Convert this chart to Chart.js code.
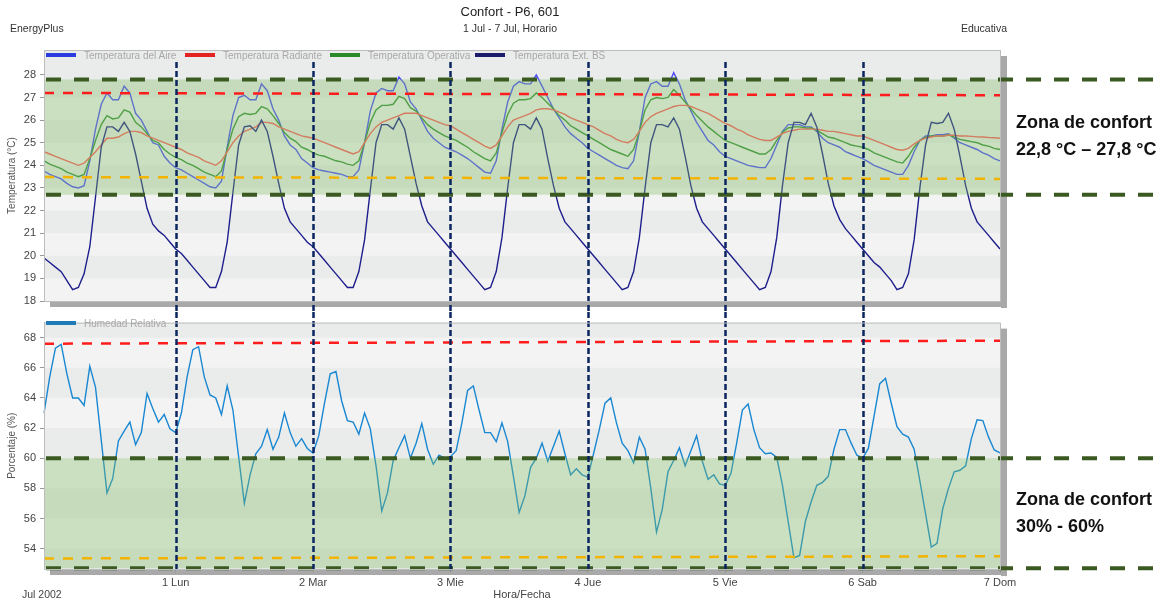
<!DOCTYPE html>
<html>
<head>
<meta charset="utf-8">
<script src="https://cdn.jsdelivr.net/npm/chart.js@4"></script>
<style>
  body { margin: 0; width: 1168px; height: 602px; background: #fff; position: relative; overflow: hidden;
         font-family: "Liberation Sans", Arial, sans-serif; }
  canvas { position: absolute; left: 0; }
  #tempChart { top: 0; }
  #humChart { top: 312px; }
  .t { position: absolute; white-space: nowrap; color: #333; font-size: 10.5px; line-height: 14px; }
  .zone { position: absolute; left: 1016px; font-weight: bold; font-size: 18px; line-height: 27px; color: #111; white-space: nowrap; }
  .leg { position: absolute; font-size: 10px; line-height: 12px; color: #a8a8a8; white-space: nowrap; }
  .leg i { display: inline-block; width: 30px; height: 4px; vertical-align: middle; margin: -2px 8px 0 0; }
</style>
</head>
<body>
<canvas id="tempChart" width="1168" height="312"></canvas>
<canvas id="humChart" width="1168" height="290"></canvas>

<div class="t" style="left:410px;width:200px;text-align:center;top:4px;font-size:13px;line-height:16px;color:#222">Confort - P6, 601</div>
<div class="t" style="left:410px;width:200px;text-align:center;top:21px">1 Jul - 7 Jul, Horario</div>
<div class="t" style="left:10px;top:21px">EnergyPlus</div>
<div class="t" style="left:907px;width:100px;text-align:right;top:21px">Educativa</div>
<div class="t" style="left:22px;top:587px;color:#444">Jul 2002</div>

<div class="leg" style="left:46px;top:50px"><i style="background:#2a3ce0"></i>Temperatura del Aire</div>
<div class="leg" style="left:185px;top:50px"><i style="background:#e42222"></i>Temperatura Radiante</div>
<div class="leg" style="left:330px;top:50px"><i style="background:#2a8a2a"></i>Temperatura Operativa</div>
<div class="leg" style="left:475px;top:50px"><i style="background:#1c1c6c"></i>Temperatura Ext. BS</div>
<div class="leg" style="left:46px;top:318px"><i style="background:#1f7ab8"></i>Humedad Relativa</div>

<div class="zone" style="top:109px">Zona de confort<br>22,8 °C – 27,8 °C</div>
<div class="zone" style="top:486px">Zona de confort<br>30% - 60%</div>

<script>
Chart.defaults.font.family = '"Liberation Sans", Arial, sans-serif';

const dayLabels = ['1 Lun', '2 Mar', '3 Mie', '4 Jue', '5 Vie', '6 Sab', '7 Dom'];
const hours = Array.from({ length: 168 }, (_, i) => i + 1);

const tempTicks = [18, 19, 20, 21, 22, 23, 24, 25, 26, 27, 28];
const humTicks = [54, 56, 58, 60, 62, 64, 66, 68];

// reference lines
const tempComfort = [22.7, 27.8];
const tempRed = [27.2, 27.1];
const tempYellow = [23.48, 23.4];
const humComfort = [52.7, 60];
const humRed = [67.6, 67.8];
const humYellow = [53.35, 53.5];

// hourly values, one row per day
const tempAire = [
  23.75, 23.6, 23.5, 23.4, 23.2, 23.05, 23.0, 23.1, 24.2, 25.6, 26.7, 27.2, 26.9, 26.9, 27.5, 27.2, 26.3, 26.0, 25.5, 25.0, 24.9, 24.4, 24.1, 23.9,
  23.8, 23.65, 23.5, 23.35, 23.2, 23.05, 23.0, 23.3, 24.8, 26.2, 27.0, 27.1, 26.9, 26.9, 27.6, 27.3, 26.5, 26.0, 25.3, 24.9, 24.7, 24.3, 24.1, 23.9,
  23.8, 23.75, 23.7, 23.65, 23.6, 23.5, 23.5, 23.8, 25.0, 26.4, 27.2, 27.4, 27.3, 27.3, 27.9, 27.6, 26.8, 26.5, 26.0, 25.5, 25.2, 25.0, 24.8, 24.7,
  24.6, 24.45, 24.3, 24.1, 23.9, 23.7, 23.65, 24.2, 25.6, 26.8, 27.5, 27.7, 27.6, 27.6, 28.0, 27.5, 27.0, 26.5, 26.1, 25.7, 25.4, 25.2, 25.0, 24.75,
  24.6, 24.45, 24.3, 24.15, 24.0, 23.9, 23.85, 24.2, 25.5, 27.0, 27.6, 27.7, 27.5, 27.5, 28.1, 27.6, 26.9, 26.4, 25.9, 25.5, 25.1, 24.9, 24.6, 24.4,
  24.3, 24.2, 24.1, 24.0, 23.95, 23.9, 23.9, 24.3, 24.9, 25.5, 25.8, 25.8, 25.8, 25.7, 25.7, 25.5, 25.2, 25.0, 24.9, 24.8, 24.6, 24.5, 24.4, 24.3,
  24.15, 24.0, 23.9, 23.8, 23.7, 23.6, 23.6, 24.0, 24.6, 25.1, 25.3, 25.3, 25.35, 25.35, 25.4, 25.2, 25.0, 24.9, 24.8, 24.7, 24.55, 24.45, 24.3, 24.2
];
const tempRadiante = [
  24.6, 24.5, 24.4, 24.3, 24.2, 24.1, 24.0, 24.1, 24.35, 24.6, 24.9, 25.2, 25.2, 25.25, 25.4, 25.5, 25.5, 25.45, 25.3, 25.2, 25.1, 25.0, 24.9, 24.8,
  24.7, 24.55, 24.45, 24.35, 24.2, 24.1, 24.0, 24.2, 24.6, 25.0, 25.3, 25.5, 25.6, 25.7, 25.9, 25.9, 25.85, 25.7, 25.6, 25.5, 25.4, 25.3, 25.25, 25.2,
  25.1, 25.0, 24.9, 24.8, 24.7, 24.6, 24.5, 24.6, 25.0, 25.4, 25.7, 25.9, 26.0, 26.1, 26.2, 26.3, 26.3, 26.3, 26.2, 26.1, 26.0, 25.9, 25.8, 25.75,
  25.6, 25.45, 25.3, 25.15, 25.0, 24.85, 24.75, 24.9, 25.3, 25.7, 26.0, 26.1, 26.2, 26.3, 26.45, 26.5, 26.5, 26.45, 26.35, 26.25, 26.1, 26.0, 25.9, 25.8,
  25.7, 25.55, 25.4, 25.3, 25.15, 25.05, 25.0, 25.15, 25.5, 25.9, 26.15, 26.3, 26.4, 26.5, 26.6, 26.65, 26.65, 26.6, 26.5, 26.4, 26.3, 26.15, 26.0, 25.85,
  25.75, 25.6, 25.5, 25.35, 25.25, 25.15, 25.1, 25.1, 25.25, 25.4, 25.5, 25.55, 25.6, 25.6, 25.6, 25.6, 25.55, 25.5, 25.5, 25.45, 25.4, 25.35, 25.3, 25.3,
  25.2, 25.1, 25.0, 24.9, 24.8, 24.7, 24.67, 24.75, 24.95, 25.1, 25.2, 25.25, 25.3, 25.3, 25.33, 25.33, 25.3, 25.3, 25.28, 25.26, 25.25, 25.23, 25.22, 25.2
];
const tempOperativa = [
  24.2, 24.05, 23.95, 23.85, 23.7, 23.6, 23.5, 23.6, 24.3, 25.1, 25.8, 26.2, 26.05, 26.1, 26.45, 26.35, 25.9, 25.7, 25.4, 25.1, 25.0, 24.7, 24.5, 24.35,
  24.25, 24.1, 24.0, 23.85, 23.7, 23.6, 23.5, 23.75, 24.7, 25.6, 26.15, 26.3, 26.25, 26.3, 26.6, 26.5, 26.2, 25.85, 25.45, 25.2, 25.05, 24.8, 24.7, 24.55,
  24.45, 24.4, 24.3, 24.2, 24.15, 24.05, 24.0, 24.2, 25.0, 25.9, 26.45, 26.65, 26.65, 26.7, 27.05, 26.95, 26.55, 26.4, 26.1, 25.8, 25.6, 25.45, 25.3, 25.2,
  25.1, 24.95, 24.8, 24.6, 24.45, 24.3, 24.2, 24.55, 25.45, 26.25, 26.75, 26.9, 26.9, 26.95, 27.2, 27.0, 26.75, 26.5, 26.2, 26.0, 25.75, 25.6, 25.45, 25.3,
  25.15, 25.0, 24.85, 24.7, 24.6, 24.5, 24.4, 24.7, 25.5, 26.45, 26.9, 27.0, 26.95, 27.0, 27.35, 27.1, 26.8, 26.5, 26.2, 25.95, 25.7, 25.5, 25.3, 25.1,
  25.0, 24.9, 24.8, 24.7, 24.6, 24.5, 24.5, 24.7, 25.1, 25.45, 25.65, 25.7, 25.7, 25.65, 25.65, 25.55, 25.4, 25.25, 25.2, 25.1, 25.0, 24.9, 24.85, 24.8,
  24.7, 24.55, 24.45, 24.35, 24.25, 24.15, 24.1, 24.4, 24.8, 25.1, 25.25, 25.3, 25.3, 25.3, 25.35, 25.25, 25.15, 25.1, 25.05, 25.0, 24.9, 24.85, 24.75, 24.7
];
const tempExterior = [
  19.9, 19.7, 19.5, 19.3, 18.9, 18.5, 18.6, 19.2, 20.4, 22.6, 24.8, 25.7, 25.7, 25.5, 25.9, 25.5, 24.5, 23.3, 22.1, 21.4, 21.1, 20.9, 20.6, 20.3,
  20.1, 19.8, 19.5, 19.2, 18.9, 18.6, 18.6, 19.3, 20.6, 22.8, 24.9, 25.7, 25.75, 25.5, 26.0, 25.5, 24.4, 23.2, 22.1, 21.5, 21.2, 20.9, 20.6, 20.4,
  20.1, 19.8, 19.5, 19.2, 18.9, 18.6, 18.6, 19.3, 20.7, 22.9, 25.0, 25.8, 25.8, 25.6, 26.1, 25.6, 24.4, 23.2, 22.2, 21.5, 21.2, 20.9, 20.6, 20.3,
  20.0, 19.7, 19.4, 19.1, 18.8, 18.5, 18.6, 19.3, 20.8, 23.0, 25.0, 25.8, 25.8, 25.6, 26.1, 25.6, 24.3, 23.1, 22.1, 21.5, 21.2, 20.9, 20.6, 20.3,
  20.0, 19.7, 19.4, 19.1, 18.8, 18.5, 18.6, 19.3, 20.8, 23.0, 25.0, 25.8, 25.8, 25.7, 26.1, 25.6, 24.4, 23.1, 22.1, 21.5, 21.2, 20.9, 20.6, 20.3,
  20.0, 19.7, 19.4, 19.1, 18.8, 18.5, 18.6, 19.3, 20.8, 23.1, 25.0, 25.9, 25.9, 25.8, 26.3, 25.7, 24.5, 23.2, 22.2, 21.6, 21.2, 20.9, 20.6, 20.3,
  20.0, 19.7, 19.5, 19.2, 18.9, 18.5, 18.6, 19.2, 20.7, 23.0, 24.9, 25.9, 25.85, 25.9, 26.3, 25.6, 24.4, 23.1, 22.1, 21.5, 21.2, 20.9, 20.6, 20.3
];
const humedad = [
  63.0, 65.4, 67.3, 67.55, 65.6, 64.0, 64.0, 63.5, 66.1, 64.7, 61.2, 57.7, 58.65, 61.15, 61.8, 62.4, 60.9, 61.7, 64.3, 63.3, 62.4, 62.9, 61.95, 61.7,
  63.0, 65.4, 67.2, 67.4, 65.4, 64.2, 64.0, 62.9, 64.8, 63.2, 60.1, 57.0, 58.9, 60.3, 60.8, 61.9, 60.6, 61.4, 63.0, 61.7, 60.8, 61.3, 60.65, 60.35,
  61.5, 63.65, 65.6, 65.75, 63.8, 62.5, 62.4, 61.6, 63.0, 61.95, 59.5, 56.5, 57.7, 59.85, 60.7, 61.5, 60.0, 61.0, 62.3, 60.6, 59.6, 60.2, 60.0, 60.1,
  60.5, 62.35, 64.5, 64.8, 63.2, 61.7, 61.7, 61.1, 62.35, 61.1, 58.8, 56.4, 57.5, 59.4, 60.0, 61.0, 59.8, 60.8, 61.8, 60.3, 58.9, 59.3, 58.9, 58.75,
  60.3, 61.9, 63.65, 64.0, 62.35, 61.0, 60.5, 59.7, 61.4, 60.6, 58.0, 55.1, 56.6, 59.1, 59.85, 60.7, 59.5, 60.5, 61.5, 59.8, 58.6, 58.9, 58.3, 58.2,
  59.0, 61.0, 63.2, 63.6, 61.9, 60.7, 60.3, 60.35, 60.05, 58.2, 55.8, 53.4, 53.55, 55.8, 57.1, 58.2, 58.4, 58.8, 60.6, 61.9, 61.9, 61.0, 60.2, 60.0,
  60.65, 62.8, 64.95, 65.3, 63.65, 62.1, 61.6, 61.4, 60.6, 58.5, 56.3, 54.1, 54.35, 56.65, 58.0, 59.1, 59.2, 59.5, 61.3, 62.55, 62.5, 61.4, 60.55, 60.35
];

function dashed(ctx, x0, y0, x1, y1, color, width, dash) {
  ctx.beginPath();
  ctx.setLineDash(dash);
  ctx.strokeStyle = color;
  ctx.lineWidth = width;
  ctx.moveTo(x0, y0);
  ctx.lineTo(x1, y1);
  ctx.stroke();
}

const panelDecor = {
  id: 'panelDecor',
  beforeDraw(chart, args, o) {
    const { ctx, chartArea: a } = chart;
    const y = chart.scales.y;
    ctx.save();
    // drop shadow
    ctx.fillStyle = '#a9a9a9';
    ctx.fillRect(a.left + 6, a.bottom + 1, a.right - a.left + 1, 5);
    ctx.fillRect(a.right + 1, a.top + 6, 6, a.bottom - a.top + 1);
    // striped background
    ctx.fillStyle = '#eaeceb';
    ctx.fillRect(a.left, a.top, a.right - a.left, a.bottom - a.top);
    ctx.fillStyle = '#f2f3f2';
    for (let i = 0; i < o.ticks.length - 1; i += 2) {
      const y0 = y.getPixelForValue(o.ticks[i]);
      const y1 = y.getPixelForValue(o.ticks[i + 1]);
      ctx.fillRect(a.left, y1, a.right - a.left, y0 - y1);
    }
    ctx.restore();
  },
  afterDatasetsDraw(chart, args, o) {
    const { ctx, chartArea: a } = chart;
    const x = chart.scales.x, y = chart.scales.y;
    ctx.save();
    // comfort zone laid over the lines
    const zTop = y.getPixelForValue(o.comfort[1]);
    const zBot = y.getPixelForValue(o.comfort[0]);
    ctx.fillStyle = 'rgba(130,190,100,0.35)';
    ctx.fillRect(a.left, zTop, a.right - a.left, zBot - zTop);

    dashed(ctx, a.left, y.getPixelForValue(o.red[0]), a.right, y.getPixelForValue(o.red[1]), '#ff1c1c', 2.5, [10, 9]);
    dashed(ctx, a.left, y.getPixelForValue(o.yellow[0]), a.right, y.getPixelForValue(o.yellow[1]), '#f2b400', 2.5, [10, 9]);
    o.comfort.forEach(v => {
      const py = y.getPixelForValue(v);
      dashed(ctx, a.left + 2, py, 1162, py, '#3b5a22', 4, [15, 13]);
    });

    // day separators
    const vBottom = o.vBottom === 'canvas' ? chart.height : a.bottom;
    hours.forEach((h, i) => {
      if (h % 24 === 0 && h < 168) {
        const px = Math.round(x.getPixelForValue(i)) + 0.5;
        dashed(ctx, px, o.vTop, px, vBottom, '#0b2560', 2.5, [6, 3]);
      }
    });

    ctx.setLineDash([]);
    ctx.strokeStyle = '#bdbdbd';
    ctx.lineWidth = 1;
    ctx.strokeRect(a.left + 0.5, a.top + 0.5, a.right - a.left, a.bottom - a.top);
    ctx.restore();
  }
};

function lineSet(label, data, color) {
  return { label, data, borderColor: color, borderWidth: 1.4, pointRadius: 0, tension: 0, fill: false };
}

new Chart(document.getElementById('tempChart'), {
  type: 'line',
  plugins: [panelDecor],
  data: {
    labels: hours,
    datasets: [
      lineSet('Temperatura Ext. BS', tempExterior, '#1e1e8c'),
      lineSet('Temperatura Radiante', tempRadiante, '#ff5a5c'),
      lineSet('Temperatura Operativa', tempOperativa, '#359036'),
      lineSet('Temperatura del Aire', tempAire, '#4c4bff')
    ]
  },
  options: {
    responsive: false,
    animation: false,
    layout: { padding: { left: 0, right: 168, top: 50, bottom: 11 } },
    plugins: {
      legend: { display: false },
      tooltip: { enabled: false },
      panelDecor: { ticks: tempTicks, comfort: tempComfort, red: tempRed, yellow: tempYellow, vTop: 62, vBottom: 'canvas' }
    },
    scales: {
      x: { display: false },
      y: {
        min: 18,
        max: 29.1,
        afterBuildTicks: s => { s.ticks = tempTicks.map(v => ({ value: v })); },
        afterFit: s => { s.width = 44; },
        ticks: { color: '#444', font: { size: 11 }, padding: 4 },
        grid: { drawOnChartArea: false, tickLength: 4, color: '#999' },
        border: { color: '#999' },
        title: { display: true, text: 'Temperatura (°C)', color: '#555', font: { size: 10 }, padding: { top: 6, bottom: 0 } }
      }
    }
  }
});

new Chart(document.getElementById('humChart'), {
  type: 'line',
  plugins: [panelDecor],
  data: {
    labels: hours,
    datasets: [lineSet('Humedad Relativa', humedad, '#1987d2')]
  },
  options: {
    responsive: false,
    animation: false,
    layout: { padding: { left: 0, right: 168, top: 6, bottom: 0 } },
    plugins: {
      legend: { display: false },
      tooltip: { enabled: false },
      panelDecor: { ticks: humTicks, comfort: humComfort, red: humRed, yellow: humYellow, vTop: 0, vBottom: 'area' }
    },
    scales: {
      x: {
        afterFit: s => { s.height = 33; },
        ticks: {
          autoSkip: false, maxRotation: 0, minRotation: 0, color: '#444', font: { size: 11 }, padding: 3,
          callback: (v, i) => (hours[i] % 24 === 0 ? dayLabels[hours[i] / 24 - 1] : '')
        },
        grid: {
          drawOnChartArea: false, tickLength: 4,
          color: c => (hours[c.index] % 24 === 0 ? '#999' : 'rgba(0,0,0,0)')
        },
        border: { color: '#999' },
        title: { display: true, text: 'Hora/Fecha', color: '#444', font: { size: 11 }, padding: { top: 0, bottom: 0 } }
      },
      y: {
        min: 52.65,
        max: 69,
        afterBuildTicks: s => { s.ticks = humTicks.map(v => ({ value: v })); },
        afterFit: s => { s.width = 44; },
        ticks: { color: '#444', font: { size: 11 }, padding: 4 },
        grid: { drawOnChartArea: false, tickLength: 4, color: '#999' },
        border: { color: '#999' },
        title: { display: true, text: 'Porcentaje (%)', color: '#555', font: { size: 10 }, padding: { top: 6, bottom: 0 } }
      }
    }
  }
});
</script>
</body>
</html>
